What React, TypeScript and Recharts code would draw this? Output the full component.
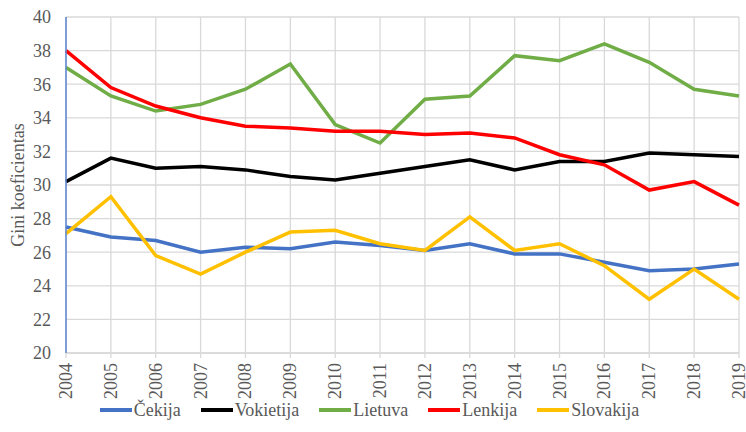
import { CartesianGrid, Legend, Line, LineChart, XAxis, YAxis } from "recharts";

const years = ["2004", "2005", "2006", "2007", "2008", "2009", "2010", "2011", "2012", "2013", "2014", "2015", "2016", "2017", "2018", "2019"];
const cekija = [27.5, 26.9, 26.7, 26.0, 26.3, 26.2, 26.6, 26.4, 26.1, 26.5, 25.9, 25.9, 25.4, 24.9, 25.0, 25.3];
const vokietija = [30.2, 31.6, 31.0, 31.1, 30.9, 30.5, 30.3, 30.7, 31.1, 31.5, 30.9, 31.4, 31.4, 31.9, 31.8, 31.7];
const lietuva = [37.0, 35.3, 34.4, 34.8, 35.7, 37.2, 33.6, 32.5, 35.1, 35.3, 37.7, 37.4, 38.4, 37.3, 35.7, 35.3];
const lenkija = [38.0, 35.8, 34.7, 34.0, 33.5, 33.4, 33.2, 33.2, 33.0, 33.1, 32.8, 31.8, 31.2, 29.7, 30.2, 28.8];
const slovakija = [27.1, 29.3, 25.8, 24.7, 26.0, 27.2, 27.3, 26.5, 26.1, 28.1, 26.1, 26.5, 25.2, 23.2, 25.0, 23.2];
const yTicks = [20, 22, 24, 26, 28, 30, 32, 34, 36, 38, 40];

const series = [
  { key: "Čekija", values: cekija, color: "#4472C4" },
  { key: "Vokietija", values: vokietija, color: "#000000" },
  { key: "Lietuva", values: lietuva, color: "#70AD47" },
  { key: "Lenkija", values: lenkija, color: "#FF0000" },
  { key: "Slovakija", values: slovakija, color: "#FFC000" },
];

const data = years.map((year, i) => {
  const row: Record<string, string | number> = { year };
  series.forEach((s) => {
    row[s.key] = s.values[i];
  });
  return row;
});

const FONT = "Liberation Serif, Times New Roman, serif";
const TEXT = "#595959";
const GRID = "#D9D9D9";

function YearTick({ x, y, payload }: any) {
  const ty = y + 3;
  return (
    <text
      x={x}
      y={ty}
      transform={`rotate(-90 ${x} ${ty})`}
      textAnchor="end"
      dominantBaseline="central"
      fill={TEXT}
      fontSize={18}
      fontFamily={FONT}
    >
      {payload.value}
    </text>
  );
}

function LegendRow() {
  return (
    <div
      style={{
        display: "flex",
        justifyContent: "center",
        gap: 20,
        fontFamily: FONT,
        fontSize: 18,
        color: TEXT,
        lineHeight: "24px",
      }}
    >
      {series.map((s) => (
        <div key={s.key} style={{ display: "flex", alignItems: "center" }}>
          <span
            style={{
              display: "inline-block",
              width: 32,
              height: 4,
              background: s.color,
              marginRight: 2,
            }}
          />
          <span>{s.key}</span>
        </div>
      ))}
    </div>
  );
}

export default function App() {
  return (
    <div style={{ position: "absolute", left: 0, top: 0, background: "#fff" }}>
      <LineChart
        width={746}
        height={432}
        data={data}
        margin={{ top: 17, right: 7, bottom: 10, left: 0 }}
      >
        <CartesianGrid stroke={GRID} strokeWidth={1.3} />
        <XAxis
          dataKey="year"
          interval={0}
          height={45}
          tick={<YearTick />}
          tickSize={5}
          tickLine={{ stroke: GRID, strokeWidth: 1.3 }}
          axisLine={{ stroke: GRID, strokeWidth: 1.3 }}
        />
        <YAxis
          domain={[20, 40]}
          ticks={yTicks}
          width={66}
          tickLine={false}
          tickSize={6}
          tickMargin={9}
          axisLine={{ stroke: "#5B86D6", strokeWidth: 1.5 }}
          tick={{ fill: TEXT, fontSize: 18, fontFamily: FONT }}
          label={{
            value: "Gini koeficientas",
            angle: -90,
            position: "insideLeft",
            offset: 18,
            style: { fill: TEXT, fontSize: 18, fontFamily: FONT, textAnchor: "middle" },
          }}
        />
        <Legend verticalAlign="bottom" height={24} content={<LegendRow />} />
        {series.map((s) => (
          <Line
            key={s.key}
            dataKey={s.key}
            stroke={s.color}
            strokeWidth={3.5}
            dot={false}
            activeDot={false}
            isAnimationActive={false}
          />
        ))}
      </LineChart>
    </div>
  );
}
